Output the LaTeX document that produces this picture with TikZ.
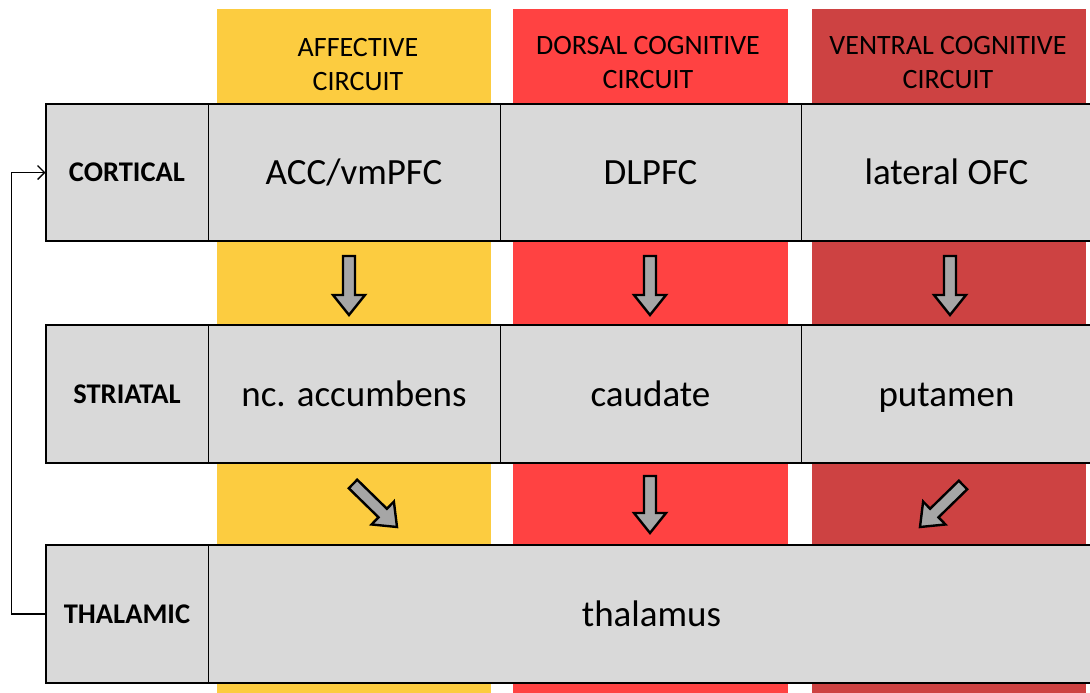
\documentclass[tikz,border=0pt]{standalone}
\usepackage{fontspec}
\setmainfont{Carlito}
\usetikzlibrary{calc,arrows.meta}
\definecolor{cyel}{HTML}{FCCC40}
\definecolor{cred}{HTML}{FF4242}
\definecolor{cdred}{HTML}{CD4242}
\definecolor{cgray}{HTML}{D9D9D9}
\definecolor{carr}{HTML}{A6A6A6}
\tikzset{
  headtxt/.style={align=center, font=\fontsize{28}{34}\selectfont, inner sep=0pt},
  rowlab/.style={draw=black, line width=1pt, fill=cgray, minimum height=137pt, inner sep=0pt, text height=18.5pt, text depth=0pt, font=\bfseries\fontsize{28.5}{30}\selectfont},
  cell/.style={draw=black, line width=1pt, fill=cgray, minimum height=137pt, inner sep=0pt, text height=24pt, text depth=0pt, font=\fontsize{37}{40}\selectfont},
  blockarr/.style={fill=carr, draw=black, line width=2.4pt, line join=miter},
  feedback/.style={line width=1.6pt, -{Straight Barb[length=7pt,width=14pt,line width=1.4pt]}}
}
\newcommand{\barrow}[2]{%
  \coordinate (N) at ($(#2)!20pt!(#1)$);
  \draw[blockarr] ($(#1)!6pt!90:(#2)$) -- ($(N)!6pt!-90:(#1)$) -- ($(N)!16pt!-90:(#1)$) -- (#2) -- ($(N)!16pt!90:(#1)$) -- ($(N)!6pt!90:(#1)$) -- ($(#1)!6pt!-90:(#2)$) -- cycle;
}
\begin{document}
\begin{tikzpicture}[x=1pt,y=-1pt]
\useasboundingbox (0,0) rectangle (1090,693);
% column bands
\fill[cyel] (217,9) rectangle (491,700);
\fill[cred] (513,9) rectangle (788,700);
\fill[cdred] (812,9) rectangle (1086,700);
\node[headtxt] (hA) at (358,65) {AFFECTIVE\\CIRCUIT};
\node[headtxt] (hD) at (648,63) {DORSAL COGNITIVE\\CIRCUIT};
\node[headtxt] (hV) at (948,63) {VENTRAL COGNITIVE\\CIRCUIT};
% cortical row
\node[rowlab, minimum width=162pt] (cortL) at (127,172.5) {CORTICAL};
\node[cell, minimum width=292pt] (acc) at (354,172.5) {ACC/vmPFC};
\node[cell, minimum width=301pt] (dlpfc) at (650.5,172.5) {DLPFC};
\node[cell, minimum width=291pt] (ofc) at (946.5,172.5) {lateral OFC};
\draw[line width=2pt] (46,104) rectangle (1095,241);
% striatal row
\node[rowlab, minimum width=162pt] (strL) at (127,394) {STRIATAL};
\node[cell, minimum width=292pt] (nacc) at (354,394) {nc. accumbens};
\node[cell, minimum width=301pt] (caud) at (650.5,394) {caudate};
\node[cell, minimum width=291pt] (put) at (946.5,394) {putamen};
\draw[line width=2pt] (46,325) rectangle (1095,463);
% thalamic row
\node[rowlab, minimum width=162pt] (thalL) at (127,614) {THALAMIC};
\node[cell, minimum width=887pt] (thal) at (651.5,614) {thalamus};
\draw[line width=2pt] (46,545) rectangle (1095,683);
% block arrows
\coordinate (a1s) at (349,256); \coordinate (a1e) at (349,315);
\coordinate (a2s) at (650,256); \coordinate (a2e) at (650,315);
\coordinate (a3s) at (950,256); \coordinate (a3e) at (950,315);
\coordinate (b1s) at (353,484); \coordinate (b1e) at (397,527);
\coordinate (b2s) at (650,476); \coordinate (b2e) at (650,533);
\coordinate (b3s) at (963,485); \coordinate (b3e) at (920,527);
\barrow{a1s}{a1e}
\barrow{a2s}{a2e}
\barrow{a3s}{a3e}
\barrow{b1s}{b1e}
\barrow{b2s}{b2e}
\barrow{b3s}{b3e}
% feedback loop
\draw[feedback] (thalL.west) -- ++(-34,0) |- (cortL.west);
\end{tikzpicture}
\end{document}
